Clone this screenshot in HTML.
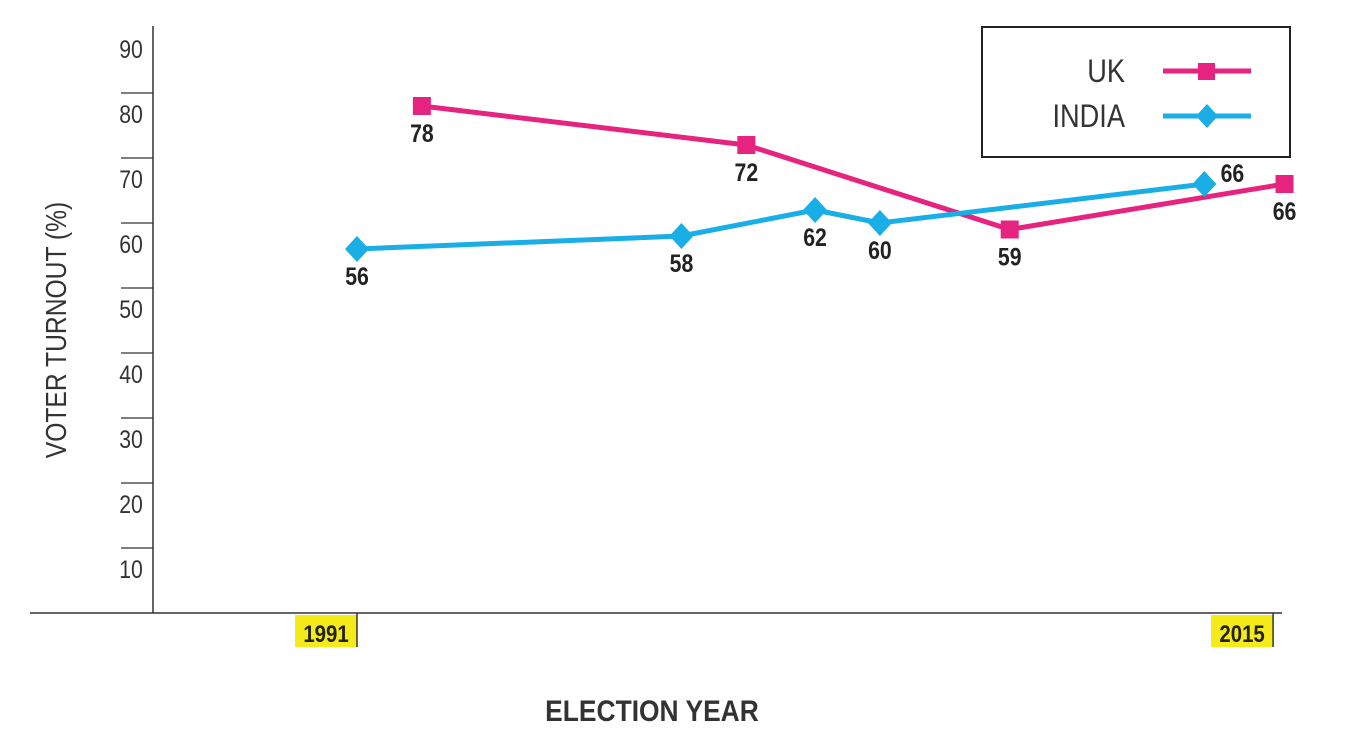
<!DOCTYPE html>
<html><head><meta charset="utf-8"><style>
body{margin:0;background:#fff;}
svg{display:block;font-family:"Liberation Sans",sans-serif;}
</style></head><body>
<svg id="chart" width="1345" height="749" viewBox="0 0 1345 749">
<g id="axes"></g>
<g id="series"></g>
<g>
<rect x="982" y="27" width="308" height="130" fill="#fff" stroke="#222" stroke-width="2"/>
<text x="1125" y="82" text-anchor="end" font-size="32" fill="#333" transform="translate(1125,0) scale(0.85,1) translate(-1125,0)">UK</text>
<line x1="1163" y1="71" x2="1251" y2="71" stroke="#e6237f" stroke-width="5"/>
<rect x="1198" y="63" width="17" height="17" fill="#e6237f"/>
<text x="1125" y="127" text-anchor="end" font-size="32" fill="#333" transform="translate(1125,0) scale(0.85,1) translate(-1125,0)">INDIA</text>
<line x1="1163" y1="116" x2="1251" y2="116" stroke="#1aaee6" stroke-width="5"/>
<polygon points="1207,104 1218,116 1207,128 1196,116" fill="#1aaee6"/>
</g>
<text x="0" y="0" transform="translate(66,330) rotate(-90) scale(0.85,1)" text-anchor="middle" font-size="29" fill="#333">VOTER TURNOUT (%)</text>
<text x="0" y="0" transform="translate(652,721) scale(0.88,1)" text-anchor="middle" font-size="30" font-weight="bold" fill="#333">ELECTION YEAR</text>
</svg>
<script>
const yTicks=[10,20,30,40,50,60,70,80,90];
const xTickYears=[1991,2015];
const ukYears=[1992.7,2001.2,2008.1,2015.3];
const ukValues=[78,72,59,66];
const indiaYears=[1991,1999.5,2003.0,2004.7,2013.2];
const indiaValues=[56,58,62,60,66];
const NS="http://www.w3.org/2000/svg";
const X=y=>357+(y-1991)*38.17;
const Y=v=>613-v*6.5;
function mk(tag,attrs,parent){const e=document.createElementNS(NS,tag);for(const k in attrs)e.setAttribute(k,attrs[k]);parent.appendChild(e);return e;}
const axes=document.getElementById('axes'),series=document.getElementById('series');
let e=mk('line',{x1:153,y1:Y(90)-2,x2:153,y2:613,stroke:'#333','stroke-width':1.5},axes);


e=mk('line',{x1:30,y1:613,x2:1282,y2:613,stroke:'#333','stroke-width':1.5},axes);


yTicks.forEach(v=>{
  if(v<90){const t=mk('line',{x1:121,y1:Y(v),x2:153,y2:Y(v),stroke:'#333','stroke-width':1.2},axes);
  
  }
  const l=mk('text',{x:0,y:0,transform:`translate(131,${Y(v)+30}) scale(0.85,1)`,'text-anchor':'middle','font-size':25,fill:'#333'},axes);
  l.textContent=v;
  
  
});
xTickYears.forEach(yr=>{
  const x=X(yr);
  const b=mk('rect',{x:x-62,y:615,width:62,height:32,fill:'#f5ea1a'},axes);
  
  
  const t=mk('line',{x1:x,y1:613,x2:x,y2:647,stroke:'#333','stroke-width':1.5},axes);
  
  
  const l=mk('text',{x:0,y:0,transform:`translate(${x-31},642) scale(0.85,1)`,'text-anchor':'middle','font-size':24,'font-weight':'bold',fill:'#222'},axes);
  l.textContent=yr;
  
  
});
function draw(name,years,vals,color,marker){
  const p=mk('polyline',{points:years.map((y,i)=>X(y)+','+Y(vals[i])).join(' '),fill:'none',stroke:color,'stroke-width':5,'stroke-linejoin':'round'},series);
  
  
  years.forEach((yr,i)=>{
    const x=X(yr),y=Y(vals[i]);let m;
    if(marker==='square')m=mk('rect',{x:x-9,y:y-9,width:18,height:18,fill:color},series);
    else m=mk('polygon',{points:`${x},${y-13} ${x+12},${y} ${x},${y+13} ${x-12},${y}`,fill:color},series);
    
    
    const last=(name==='india'&&i===years.length-1);
    const lx=last?x+28:x, ly=last?y-2:y+36;
    const l=mk('text',{x:0,y:0,transform:`translate(${lx},${ly}) scale(0.85,1)`,'text-anchor':'middle','font-size':25,'font-weight':'bold',fill:'#222'},series);
    l.textContent=vals[i];
    
    
  });
}
draw('uk',ukYears,ukValues,'#e6237f','square');
draw('india',indiaYears,indiaValues,'#1aaee6','diamond');
</script>
</body></html>
